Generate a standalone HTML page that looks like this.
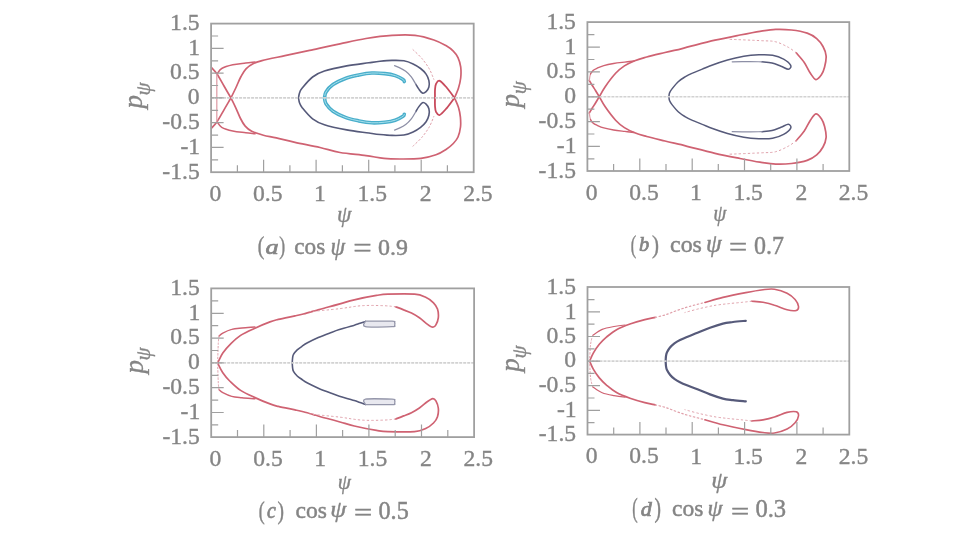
<!DOCTYPE html>
<html><head><meta charset="utf-8"><style>
html,body{margin:0;padding:0;background:#fff;}
svg{display:block;filter:blur(0.7px);}
</style></head><body>
<svg width="960" height="540" viewBox="0 0 960 540">
<rect width="960" height="540" fill="#fff"/>
<g fill="none" stroke-linecap="round" stroke-linejoin="round"><path d="M211.5,67.6 C212.4,68.7 214.9,70.9 217.0,74.0 C219.1,77.1 221.7,82.0 224.0,86.0 C226.3,90.0 229.8,95.9 230.9,97.9" stroke="#cf6272" stroke-width="1.7" />
<path d="M217.0,74.0 C217.8,73.1 219.1,70.0 221.7,68.5 C224.3,67.0 228.8,65.7 232.8,64.8 C236.8,63.9 242.0,63.5 245.7,63.0 C249.4,62.5 253.4,62.2 255.0,62.0" stroke="#cf6272" stroke-width="1.5" />
<path d="M216.8,74.0 L216.8,97.9" stroke="#e0a0aa" stroke-width="1.3" />
<path d="M454.5,97.9 C453.2,96.2 449.5,90.8 447.0,88.0 C444.5,85.2 441.5,81.5 439.7,80.8 C437.9,80.1 436.8,82.5 436.0,84.0 C435.2,85.5 435.2,87.7 435.0,90.0 C434.8,92.3 435.0,96.6 435.0,97.9" stroke="#c84a5c" stroke-width="1.8" />
<path d="M413.0,49.7 C414.5,51.2 419.2,55.3 421.9,58.5 C424.6,61.7 427.3,65.4 429.3,68.9 C431.3,72.4 433.1,77.6 433.8,79.3" stroke="#e0a0aa" stroke-width="1.0" stroke-dasharray="1.5,2.5"/>
<path d="M298.5,97.9 C298.7,97.1 298.9,94.6 299.5,93.0 C300.1,91.4 300.0,90.8 302.2,88.1 C304.4,85.4 308.9,79.8 312.6,77.0 C316.3,74.2 318.7,72.9 324.4,71.1 C330.1,69.2 339.3,67.3 346.7,65.9 C354.1,64.5 363.3,63.6 368.9,62.8 C374.4,62.0 376.1,61.7 380.0,61.3 C383.9,60.9 388.0,60.5 392.0,60.4 C396.0,60.3 400.4,60.2 403.9,60.8 C407.4,61.4 410.3,62.6 413.1,63.9 C415.9,65.2 418.4,66.8 420.6,68.5 C422.8,70.2 424.7,72.1 426.1,74.1 C427.5,76.1 428.4,78.4 428.9,80.6 C429.4,82.8 429.4,85.2 428.9,87.0 C428.4,88.8 427.2,90.7 426.1,91.7 C425.0,92.7 423.6,93.6 422.4,93.1 C421.2,92.6 419.8,90.4 418.7,88.9 C417.6,87.4 416.4,85.1 415.9,84.3" stroke="#565a7a" stroke-width="1.6" />
<path d="M415.9,84.3 C415.1,83.1 413.0,79.1 411.3,76.9 C409.6,74.7 407.7,72.8 405.7,71.3 C403.7,69.8 401.1,68.5 399.3,67.6 C397.5,66.7 395.4,66.0 394.6,65.7" stroke="#8d8fa6" stroke-width="1.3" />
<path d="M324.5,97.9 C324.8,96.9 324.6,94.2 326.0,92.0 C327.4,89.8 329.7,86.9 333.0,84.6 C336.3,82.3 341.7,79.8 346.0,78.2 C350.3,76.6 354.6,75.8 358.9,74.9 C363.2,74.0 367.6,73.2 371.9,73.0 C376.2,72.8 381.0,73.2 384.9,73.6 C388.8,74.0 392.2,74.6 395.2,75.6 C398.2,76.6 401.5,78.5 403.0,79.5 C404.5,80.5 404.1,81.2 404.3,81.5" stroke="#49aecb" stroke-width="3.6" />
<path d="M324.5,97.9 C324.8,96.9 324.6,94.2 326.0,92.0 C327.4,89.8 329.7,86.9 333.0,84.6 C336.3,82.3 341.7,79.8 346.0,78.2 C350.3,76.6 354.6,75.8 358.9,74.9 C363.2,74.0 367.6,73.2 371.9,73.0 C376.2,72.8 381.0,73.2 384.9,73.6 C388.8,74.0 392.2,74.6 395.2,75.6 C398.2,76.6 401.5,78.5 403.0,79.5 C404.5,80.5 404.1,81.2 404.3,81.5" stroke="#a6e0ec" stroke-width="1.0" /><path d="M230.9,97.9 C231.8,96.2 234.3,91.1 236.0,87.5 C237.7,83.9 239.3,79.6 241.0,76.5 C242.7,73.4 244.0,70.9 246.0,68.8 C248.0,66.7 250.3,65.2 253.0,63.8 C255.7,62.4 256.7,62.0 262.0,60.6 C267.3,59.2 277.1,57.3 285.0,55.6 C292.9,53.9 300.4,52.4 309.6,50.4 C318.8,48.4 330.6,45.7 340.0,43.8 C349.4,41.8 357.3,39.9 366.0,38.5 C374.7,37.1 383.8,35.9 392.0,35.4 C400.2,34.9 408.0,34.6 415.0,35.4 C422.0,36.2 428.8,38.3 433.9,40.0 C439.0,41.7 442.7,43.8 445.9,45.6 C449.1,47.5 451.3,49.1 453.3,51.1 C455.3,53.1 456.8,55.0 458.0,57.6 C459.2,60.2 460.2,63.5 460.7,66.9 C461.1,70.3 461.1,74.5 460.7,78.0 C460.3,81.5 459.5,84.7 458.5,88.0 C457.5,91.3 455.2,96.2 454.5,97.9" stroke="#cf6272" stroke-width="1.7" />
<path d="M230.9,97.9 C231.8,99.6 234.4,104.9 236.0,108.3 C237.6,111.7 239.0,115.5 240.5,118.5 C242.0,121.5 243.3,124.0 245.2,126.1 C247.1,128.2 248.7,129.8 251.7,131.3 C254.7,132.8 259.3,134.1 263.4,135.2 C267.5,136.3 271.0,136.6 276.3,137.8 C281.6,139.0 287.7,140.7 295.0,142.3 C302.3,143.9 312.5,145.8 320.0,147.5 C327.5,149.2 332.3,151.2 340.0,152.5 C347.7,153.8 358.7,154.6 366.0,155.6 C373.3,156.6 378.3,157.8 384.0,158.4 C389.7,159.0 393.8,159.0 400.0,159.0 C406.2,159.0 415.0,159.1 421.0,158.4 C427.0,157.7 431.8,156.3 436.0,154.8 C440.2,153.3 443.1,151.4 446.0,149.5 C448.9,147.6 451.3,145.6 453.3,143.5 C455.3,141.4 456.8,139.8 458.0,137.0 C459.2,134.2 460.1,130.3 460.5,127.0 C460.9,123.7 460.7,120.5 460.4,117.2 C460.1,114.0 459.5,110.7 458.5,107.5 C457.5,104.3 455.2,99.5 454.5,97.9" stroke="#cf6272" stroke-width="1.7" /></g>
<g fill="none" stroke-linecap="round" stroke-linejoin="round" transform="translate(0,195.80) scale(1,-1)"><path d="M211.5,67.6 C212.4,68.7 214.9,70.9 217.0,74.0 C219.1,77.1 221.7,82.0 224.0,86.0 C226.3,90.0 229.8,95.9 230.9,97.9" stroke="#cf6272" stroke-width="1.7" />
<path d="M217.0,74.0 C217.8,73.1 219.1,70.0 221.7,68.5 C224.3,67.0 228.8,65.7 232.8,64.8 C236.8,63.9 242.0,63.5 245.7,63.0 C249.4,62.5 253.4,62.2 255.0,62.0" stroke="#cf6272" stroke-width="1.5" />
<path d="M216.8,74.0 L216.8,97.9" stroke="#e0a0aa" stroke-width="1.3" />
<path d="M454.5,97.9 C453.2,96.2 449.5,90.8 447.0,88.0 C444.5,85.2 441.5,81.5 439.7,80.8 C437.9,80.1 436.8,82.5 436.0,84.0 C435.2,85.5 435.2,87.7 435.0,90.0 C434.8,92.3 435.0,96.6 435.0,97.9" stroke="#c84a5c" stroke-width="1.8" />
<path d="M413.0,49.7 C414.5,51.2 419.2,55.3 421.9,58.5 C424.6,61.7 427.3,65.4 429.3,68.9 C431.3,72.4 433.1,77.6 433.8,79.3" stroke="#e0a0aa" stroke-width="1.0" stroke-dasharray="1.5,2.5"/>
<path d="M298.5,97.9 C298.7,97.1 298.9,94.6 299.5,93.0 C300.1,91.4 300.0,90.8 302.2,88.1 C304.4,85.4 308.9,79.8 312.6,77.0 C316.3,74.2 318.7,72.9 324.4,71.1 C330.1,69.2 339.3,67.3 346.7,65.9 C354.1,64.5 363.3,63.6 368.9,62.8 C374.4,62.0 376.1,61.7 380.0,61.3 C383.9,60.9 388.0,60.5 392.0,60.4 C396.0,60.3 400.4,60.2 403.9,60.8 C407.4,61.4 410.3,62.6 413.1,63.9 C415.9,65.2 418.4,66.8 420.6,68.5 C422.8,70.2 424.7,72.1 426.1,74.1 C427.5,76.1 428.4,78.4 428.9,80.6 C429.4,82.8 429.4,85.2 428.9,87.0 C428.4,88.8 427.2,90.7 426.1,91.7 C425.0,92.7 423.6,93.6 422.4,93.1 C421.2,92.6 419.8,90.4 418.7,88.9 C417.6,87.4 416.4,85.1 415.9,84.3" stroke="#565a7a" stroke-width="1.6" />
<path d="M415.9,84.3 C415.1,83.1 413.0,79.1 411.3,76.9 C409.6,74.7 407.7,72.8 405.7,71.3 C403.7,69.8 401.1,68.5 399.3,67.6 C397.5,66.7 395.4,66.0 394.6,65.7" stroke="#8d8fa6" stroke-width="1.3" />
<path d="M324.5,97.9 C324.8,96.9 324.6,94.2 326.0,92.0 C327.4,89.8 329.7,86.9 333.0,84.6 C336.3,82.3 341.7,79.8 346.0,78.2 C350.3,76.6 354.6,75.8 358.9,74.9 C363.2,74.0 367.6,73.2 371.9,73.0 C376.2,72.8 381.0,73.2 384.9,73.6 C388.8,74.0 392.2,74.6 395.2,75.6 C398.2,76.6 401.5,78.5 403.0,79.5 C404.5,80.5 404.1,81.2 404.3,81.5" stroke="#49aecb" stroke-width="3.6" />
<path d="M324.5,97.9 C324.8,96.9 324.6,94.2 326.0,92.0 C327.4,89.8 329.7,86.9 333.0,84.6 C336.3,82.3 341.7,79.8 346.0,78.2 C350.3,76.6 354.6,75.8 358.9,74.9 C363.2,74.0 367.6,73.2 371.9,73.0 C376.2,72.8 381.0,73.2 384.9,73.6 C388.8,74.0 392.2,74.6 395.2,75.6 C398.2,76.6 401.5,78.5 403.0,79.5 C404.5,80.5 404.1,81.2 404.3,81.5" stroke="#a6e0ec" stroke-width="1.0" /></g>
<line x1="211.1" y1="97.9" x2="473.7" y2="97.9" stroke="#d2d2d2" stroke-width="1.6" stroke-dasharray="3,1"/>
<path d="M237.4,172.2V165.2M263.6,172.2V159.7M289.9,172.2V165.2M316.1,172.2V159.7M342.4,172.2V165.2M368.7,172.2V159.7M394.9,172.2V165.2M421.2,172.2V159.7M447.4,172.2V165.2M211.1,159.8H218.1M211.1,147.4H223.6M211.1,135.1H218.1M211.1,122.7H223.6M211.1,110.3H218.1M211.1,97.9H223.6M211.1,85.5H218.1M211.1,73.1H223.6M211.1,60.8H218.1M211.1,48.4H223.6M211.1,36.0H218.1" stroke="#a0a0a0" stroke-width="1.2" fill="none"/>
<rect x="211.1" y="23.6" width="262.6" height="148.6" fill="none" stroke="#a0a0a0" stroke-width="1.8"/>
<g font-family="Liberation Serif, serif" fill="#858585" stroke="#858585" stroke-width="0.35"><text transform="translate(170.11,30.11) scale(1.050,1)" font-size="22.50">1.5</text><text transform="translate(188.30,54.99) scale(1.050,1)" font-size="22.50">1</text><text transform="translate(170.11,79.42) scale(1.050,1)" font-size="22.50">0.5</text><text transform="translate(187.83,104.19) scale(1.050,1)" font-size="22.50">0</text><text transform="translate(162.32,128.95) scale(1.050,1)" font-size="22.50">-0.5</text><text transform="translate(180.51,154.06) scale(1.050,1)" font-size="22.50">-1</text><text transform="translate(162.32,178.71) scale(1.050,1)" font-size="22.50">-1.5</text><text transform="translate(209.39,200.95) scale(1.050,1)" font-size="22.50">0</text><text transform="translate(253.05,200.95) scale(1.050,1)" font-size="22.50">0.5</text><text transform="translate(314.08,201.40) scale(1.050,1)" font-size="22.50">1</text><text transform="translate(357.50,201.17) scale(1.050,1)" font-size="22.50">1.5</text><text transform="translate(419.71,201.40) scale(1.050,1)" font-size="22.50">2</text><text transform="translate(463.13,201.17) scale(1.050,1)" font-size="22.50">2.5</text><text transform="translate(337.01,222.47) scale(0.967,1)" font-size="23.95" font-style="italic">ψ</text><text transform="translate(142.4,108.6) rotate(-90)" font-size="27" font-style="italic">p</text><text transform="translate(149.6,95.4) rotate(-90)" font-size="21" font-style="italic">ψ</text></g>
<g font-family="Liberation Serif, serif" fill="#858585" stroke="#858585" stroke-width="0.45"><text transform="translate(257.72,253.64) scale(0.783,1)" font-size="25.06">(</text><text stroke-width="0.7" transform="translate(265.61,253.68) scale(1.201,1)" font-size="21.88" font-style="italic">a</text><text transform="translate(279.27,253.64) scale(0.706,1)" font-size="25.06">)</text><text transform="translate(294.27,254.07) scale(1.021,1)" font-size="22.71">cos</text><text transform="translate(330.44,254.74) scale(0.910,1)" font-size="25.74" font-style="italic">ψ</text><text transform="translate(353.16,257.43) scale(1.223,1)" font-size="26.80">=</text><text transform="translate(377.94,254.69) scale(1.038,1)" font-size="23.06">0.9</text></g>
<g fill="none" stroke-linecap="round" stroke-linejoin="round"><path d="M589.3,80.5 C589.8,81.2 591.0,83.3 592.0,85.0 C593.0,86.7 594.3,88.5 595.5,90.5 C596.7,92.5 598.7,95.7 599.3,96.8" stroke="#cf6272" stroke-width="1.7" />
<path d="M589.3,80.5 C589.4,79.9 589.6,78.1 589.8,77.0 C590.0,75.9 590.4,74.5 590.5,74.0" stroke="#e0a0aa" stroke-width="1.2" />
<path d="M599.3,96.8 C600.3,95.1 602.5,90.6 605.2,86.7 C607.9,82.8 612.4,76.8 615.6,73.3 C618.8,69.8 621.2,68.0 624.4,65.9 C627.6,63.8 631.1,62.2 634.8,60.7 C638.5,59.2 641.7,58.4 646.7,57.0 C651.7,55.6 659.2,53.9 665.0,52.5 C670.8,51.1 677.1,49.8 681.2,48.8 C685.4,47.7 684.4,47.8 690.0,46.4 C695.6,45.0 706.7,42.1 715.0,40.2 C723.3,38.3 732.5,36.5 740.0,35.0 C747.5,33.5 754.0,32.2 760.0,31.3 C766.0,30.4 770.5,29.6 775.7,29.4 C781.0,29.2 786.2,29.4 791.5,30.0 C796.8,30.6 803.0,31.7 807.2,33.1 C811.4,34.5 814.1,36.4 816.7,38.6 C819.3,40.8 821.4,43.6 823.0,46.5 C824.6,49.4 825.8,52.5 826.1,55.9 C826.4,59.3 825.4,63.9 824.6,67.0 C823.8,70.2 822.9,72.7 821.4,74.8 C819.9,76.9 817.7,79.8 815.9,79.6 C814.1,79.3 812.4,76.2 810.4,73.3 C808.4,70.4 806.5,65.6 804.1,62.2 C801.7,58.8 797.5,54.4 796.2,52.8" stroke="#cf6272" stroke-width="1.7" />
<path d="M796.2,52.8 C794.9,51.9 791.7,49.1 788.3,47.3 C784.9,45.5 780.1,42.9 775.7,41.8 C771.3,40.7 769.6,41.1 761.9,40.7 C754.2,40.3 734.7,39.5 729.3,39.3" stroke="#e0a0aa" stroke-width="1.0" stroke-dasharray="1.5,3"/>
<path d="M590.5,74.0 C590.9,73.4 591.9,71.5 593.0,70.6 C594.1,69.6 595.1,69.1 596.9,68.3 C598.7,67.5 601.0,66.4 603.8,65.6 C606.6,64.8 610.1,64.1 613.6,63.5 C617.1,62.9 621.3,62.5 624.7,62.1 C628.1,61.7 632.5,61.2 634.0,61.0" stroke="#cf6272" stroke-width="1.4" />
<path d="M668.9,96.8 C669.0,96.1 669.0,94.3 669.5,93.0 C670.0,91.7 670.5,90.8 672.0,88.9 C673.5,87.0 676.3,83.5 678.5,81.5 C680.7,79.5 682.7,78.3 685.0,76.9 C687.3,75.5 689.6,74.3 692.4,73.1 C695.2,71.8 698.4,70.8 701.7,69.4 C705.1,68.1 708.2,66.6 712.5,65.0 C716.8,63.4 722.3,61.5 727.5,60.0 C732.7,58.5 738.5,57.2 743.8,56.3 C749.0,55.4 754.1,55.0 758.9,54.8 C763.7,54.6 768.5,54.5 772.6,55.2 C776.7,55.9 780.6,57.4 783.6,59.1 C786.6,60.8 789.9,63.7 790.7,65.4 C791.5,67.1 789.9,69.2 788.3,69.3 C786.7,69.4 783.7,67.2 781.0,66.2 C778.3,65.2 775.2,63.7 772.0,63.0 C768.8,62.3 763.7,62.0 762.0,61.8" stroke="#565a7a" stroke-width="1.5" />
<path d="M762.0,61.8 C760.0,61.8 755.0,61.6 750.0,61.6 C745.0,61.6 735.2,61.8 732.2,61.8" stroke="#8d8fa6" stroke-width="1.2" /></g>
<g fill="none" stroke-linecap="round" stroke-linejoin="round" transform="translate(0,193.50) scale(1,-1)"><path d="M589.3,80.5 C589.8,81.2 591.0,83.3 592.0,85.0 C593.0,86.7 594.3,88.5 595.5,90.5 C596.7,92.5 598.7,95.7 599.3,96.8" stroke="#cf6272" stroke-width="1.7" />
<path d="M589.3,80.5 C589.4,79.9 589.6,78.1 589.8,77.0 C590.0,75.9 590.4,74.5 590.5,74.0" stroke="#e0a0aa" stroke-width="1.2" />
<path d="M599.3,96.8 C600.3,95.1 602.5,90.6 605.2,86.7 C607.9,82.8 612.4,76.8 615.6,73.3 C618.8,69.8 621.2,68.0 624.4,65.9 C627.6,63.8 631.1,62.2 634.8,60.7 C638.5,59.2 641.7,58.4 646.7,57.0 C651.7,55.6 659.2,53.9 665.0,52.5 C670.8,51.1 677.1,49.8 681.2,48.8 C685.4,47.7 684.4,47.8 690.0,46.4 C695.6,45.0 706.7,42.1 715.0,40.2 C723.3,38.3 732.5,36.5 740.0,35.0 C747.5,33.5 754.0,32.2 760.0,31.3 C766.0,30.4 770.5,29.6 775.7,29.4 C781.0,29.2 786.2,29.4 791.5,30.0 C796.8,30.6 803.0,31.7 807.2,33.1 C811.4,34.5 814.1,36.4 816.7,38.6 C819.3,40.8 821.4,43.6 823.0,46.5 C824.6,49.4 825.8,52.5 826.1,55.9 C826.4,59.3 825.4,63.9 824.6,67.0 C823.8,70.2 822.9,72.7 821.4,74.8 C819.9,76.9 817.7,79.8 815.9,79.6 C814.1,79.3 812.4,76.2 810.4,73.3 C808.4,70.4 806.5,65.6 804.1,62.2 C801.7,58.8 797.5,54.4 796.2,52.8" stroke="#cf6272" stroke-width="1.7" />
<path d="M796.2,52.8 C794.9,51.9 791.7,49.1 788.3,47.3 C784.9,45.5 780.1,42.9 775.7,41.8 C771.3,40.7 769.6,41.1 761.9,40.7 C754.2,40.3 734.7,39.5 729.3,39.3" stroke="#e0a0aa" stroke-width="1.0" stroke-dasharray="1.5,3"/>
<path d="M590.5,74.0 C590.9,73.4 591.9,71.5 593.0,70.6 C594.1,69.6 595.1,69.1 596.9,68.3 C598.7,67.5 601.0,66.4 603.8,65.6 C606.6,64.8 610.1,64.1 613.6,63.5 C617.1,62.9 621.3,62.5 624.7,62.1 C628.1,61.7 632.5,61.2 634.0,61.0" stroke="#cf6272" stroke-width="1.4" />
<path d="M668.9,96.8 C669.0,96.1 669.0,94.3 669.5,93.0 C670.0,91.7 670.5,90.8 672.0,88.9 C673.5,87.0 676.3,83.5 678.5,81.5 C680.7,79.5 682.7,78.3 685.0,76.9 C687.3,75.5 689.6,74.3 692.4,73.1 C695.2,71.8 698.4,70.8 701.7,69.4 C705.1,68.1 708.2,66.6 712.5,65.0 C716.8,63.4 722.3,61.5 727.5,60.0 C732.7,58.5 738.5,57.2 743.8,56.3 C749.0,55.4 754.1,55.0 758.9,54.8 C763.7,54.6 768.5,54.5 772.6,55.2 C776.7,55.9 780.6,57.4 783.6,59.1 C786.6,60.8 789.9,63.7 790.7,65.4 C791.5,67.1 789.9,69.2 788.3,69.3 C786.7,69.4 783.7,67.2 781.0,66.2 C778.3,65.2 775.2,63.7 772.0,63.0 C768.8,62.3 763.7,62.0 762.0,61.8" stroke="#565a7a" stroke-width="1.5" />
<path d="M762.0,61.8 C760.0,61.8 755.0,61.6 750.0,61.6 C745.0,61.6 735.2,61.8 732.2,61.8" stroke="#8d8fa6" stroke-width="1.2" /></g>
<line x1="587.4" y1="96.8" x2="849.3" y2="96.8" stroke="#d2d2d2" stroke-width="1.6" stroke-dasharray="3,1"/>
<path d="M613.6,171.0V164.0M639.8,171.0V158.5M666.0,171.0V164.0M692.2,171.0V158.5M718.3,171.0V164.0M744.5,171.0V158.5M770.7,171.0V164.0M796.9,171.0V158.5M823.1,171.0V164.0M587.4,158.8H594.4M587.4,146.4H599.9M587.4,134.0H594.4M587.4,121.6H599.9M587.4,109.2H594.4M587.4,96.8H599.9M587.4,84.3H594.4M587.4,71.9H599.9M587.4,59.5H594.4M587.4,47.1H599.9M587.4,34.7H594.4" stroke="#a0a0a0" stroke-width="1.2" fill="none"/>
<rect x="587.4" y="22.1" width="261.9" height="148.9" fill="none" stroke="#a0a0a0" stroke-width="1.8"/>
<g font-family="Liberation Serif, serif" fill="#858585" stroke="#858585" stroke-width="0.35"><text transform="translate(546.41,28.81) scale(1.050,1)" font-size="22.50">1.5</text><text transform="translate(564.61,53.74) scale(1.050,1)" font-size="22.50">1</text><text transform="translate(546.41,78.22) scale(1.050,1)" font-size="22.50">0.5</text><text transform="translate(564.13,103.04) scale(1.050,1)" font-size="22.50">0</text><text transform="translate(538.62,127.85) scale(1.050,1)" font-size="22.50">-0.5</text><text transform="translate(556.81,153.01) scale(1.050,1)" font-size="22.50">-1</text><text transform="translate(538.62,177.71) scale(1.050,1)" font-size="22.50">-1.5</text><text transform="translate(585.69,199.75) scale(1.050,1)" font-size="22.50">0</text><text transform="translate(629.21,199.75) scale(1.050,1)" font-size="22.50">0.5</text><text transform="translate(690.10,200.20) scale(1.050,1)" font-size="22.50">1</text><text transform="translate(733.38,199.97) scale(1.050,1)" font-size="22.50">1.5</text><text transform="translate(795.45,200.20) scale(1.050,1)" font-size="22.50">2</text><text transform="translate(838.73,199.97) scale(1.050,1)" font-size="22.50">2.5</text><text transform="translate(713.24,221.26) scale(0.932,1)" font-size="22.59" font-style="italic">ψ</text><text transform="translate(518.7,107.5) rotate(-90)" font-size="27" font-style="italic">p</text><text transform="translate(525.9,94.2) rotate(-90)" font-size="21" font-style="italic">ψ</text></g>
<g font-family="Liberation Serif, serif" fill="#858585" stroke="#858585" stroke-width="0.45"><text transform="translate(630.75,253.23) scale(0.640,1)" font-size="25.56">(</text><text stroke-width="0.7" transform="translate(638.98,251.44) scale(0.998,1)" font-size="20.50" font-style="italic">b</text><text transform="translate(652.07,253.23) scale(0.820,1)" font-size="25.56">)</text><text transform="translate(670.04,252.17) scale(1.042,1)" font-size="22.92">cos</text><text transform="translate(706.09,252.24) scale(1.001,1)" font-size="25.06" font-style="italic">ψ</text><text transform="translate(728.98,256.21) scale(1.189,1)" font-size="27.20">=</text><text transform="translate(754.04,253.69) scale(0.945,1)" font-size="25.37">0.7</text></g>
<g fill="none" stroke-linecap="round" stroke-linejoin="round"><path d="M217.6,362.9 C218.5,361.3 220.7,356.2 222.8,353.1 C224.9,350.0 227.2,347.2 230.2,344.3 C233.2,341.4 236.6,338.0 240.6,335.4 C244.6,332.8 249.0,330.9 253.9,328.7 C258.8,326.4 265.9,323.4 270.0,321.9 C274.1,320.3 274.1,320.4 278.3,319.4 C282.5,318.4 290.8,316.8 295.0,315.9 C299.2,315.0 299.8,314.9 303.3,314.0 C306.8,313.1 311.6,311.7 315.8,310.5 C320.0,309.3 324.1,308.1 328.3,307.0 C332.5,305.9 336.5,304.8 340.8,303.6 C345.1,302.4 348.4,301.2 354.3,299.8 C360.2,298.4 370.9,296.3 376.5,295.4 C382.1,294.5 381.5,294.4 387.9,294.2 C394.2,294.0 408.3,293.7 414.6,294.2 C420.9,294.7 422.6,295.9 425.7,297.3 C428.8,298.7 431.5,300.8 433.5,302.8 C435.5,304.8 436.7,306.6 437.5,309.1 C438.3,311.6 438.6,315.2 438.3,317.8 C438.0,320.4 436.8,323.3 435.9,324.9 C435.0,326.5 434.2,327.3 432.8,327.2 C431.4,327.1 429.4,325.7 427.2,324.1 C425.0,322.5 422.0,319.6 419.4,317.8 C416.8,316.0 414.1,314.4 411.5,313.1 C408.9,311.8 406.2,310.9 403.6,309.9 C401.0,308.8 397.0,307.3 395.7,306.8" stroke="#cf6272" stroke-width="1.7" />
<path d="M395.7,306.8 C393.7,306.6 389.6,305.9 383.9,305.7 C378.2,305.5 369.1,305.2 361.7,305.7 C354.3,306.2 348.0,307.7 339.4,308.7 C330.8,309.7 314.7,311.2 309.8,311.7" stroke="#e0a0aa" stroke-width="1.0" stroke-dasharray="1.5,3"/>
<path d="M219.1,336.1 C219.7,335.6 220.7,334.2 222.8,333.1 C224.9,332.0 228.5,330.2 231.7,329.4 C234.9,328.5 238.1,328.4 242.0,328.0 C245.9,327.6 252.8,327.2 255.0,327.0" stroke="#cf6272" stroke-width="1.4" />
<path d="M219.1,336.1 C219.0,337.2 218.6,338.3 218.3,342.8 C218.1,347.3 217.7,359.5 217.6,362.9" stroke="#e0a0aa" stroke-width="1.0" stroke-dasharray="1.5,2"/>
<path d="M292.2,362.9 C292.3,362.1 292.4,359.4 292.6,358.0 C292.8,356.6 292.7,355.8 293.5,354.4 C294.3,353.0 295.8,351.1 297.2,349.8 C298.6,348.5 300.3,347.5 302.0,346.3 C303.7,345.1 304.8,344.2 307.5,342.8 C310.2,341.4 314.7,339.2 318.3,337.6 C321.9,336.0 325.9,334.5 329.4,333.2 C332.9,331.9 335.2,330.9 339.4,329.6 C343.5,328.3 350.9,326.2 354.3,325.2 C357.7,324.1 358.1,323.9 360.0,323.3 C361.9,322.7 364.6,321.7 365.5,321.4" stroke="#565a7a" stroke-width="1.6" />
<path d="M365.5,321.2 C369.9,321.2 387.1,321.0 392.0,321.2 C396.9,321.4 394.2,321.9 394.6,322.6 C395.0,323.3 395.0,324.5 394.6,325.2 C394.2,325.9 396.9,326.4 392.0,326.6 C387.1,326.8 369.9,327.5 365.5,326.6 C361.1,325.7 365.5,322.1 365.5,321.2" stroke="#9496aa" stroke-width="1.3" fill="#e8e8ef"/></g>
<g fill="none" stroke-linecap="round" stroke-linejoin="round" transform="translate(0,725.80) scale(1,-1)"><path d="M217.6,362.9 C218.5,361.3 220.7,356.2 222.8,353.1 C224.9,350.0 227.2,347.2 230.2,344.3 C233.2,341.4 236.6,338.0 240.6,335.4 C244.6,332.8 249.0,330.9 253.9,328.7 C258.8,326.4 265.9,323.4 270.0,321.9 C274.1,320.3 274.1,320.4 278.3,319.4 C282.5,318.4 290.8,316.8 295.0,315.9 C299.2,315.0 299.8,314.9 303.3,314.0 C306.8,313.1 311.6,311.7 315.8,310.5 C320.0,309.3 324.1,308.1 328.3,307.0 C332.5,305.9 336.5,304.8 340.8,303.6 C345.1,302.4 348.4,301.2 354.3,299.8 C360.2,298.4 370.9,296.3 376.5,295.4 C382.1,294.5 381.5,294.4 387.9,294.2 C394.2,294.0 408.3,293.7 414.6,294.2 C420.9,294.7 422.6,295.9 425.7,297.3 C428.8,298.7 431.5,300.8 433.5,302.8 C435.5,304.8 436.7,306.6 437.5,309.1 C438.3,311.6 438.6,315.2 438.3,317.8 C438.0,320.4 436.8,323.3 435.9,324.9 C435.0,326.5 434.2,327.3 432.8,327.2 C431.4,327.1 429.4,325.7 427.2,324.1 C425.0,322.5 422.0,319.6 419.4,317.8 C416.8,316.0 414.1,314.4 411.5,313.1 C408.9,311.8 406.2,310.9 403.6,309.9 C401.0,308.8 397.0,307.3 395.7,306.8" stroke="#cf6272" stroke-width="1.7" />
<path d="M395.7,306.8 C393.7,306.6 389.6,305.9 383.9,305.7 C378.2,305.5 369.1,305.2 361.7,305.7 C354.3,306.2 348.0,307.7 339.4,308.7 C330.8,309.7 314.7,311.2 309.8,311.7" stroke="#e0a0aa" stroke-width="1.0" stroke-dasharray="1.5,3"/>
<path d="M219.1,336.1 C219.7,335.6 220.7,334.2 222.8,333.1 C224.9,332.0 228.5,330.2 231.7,329.4 C234.9,328.5 238.1,328.4 242.0,328.0 C245.9,327.6 252.8,327.2 255.0,327.0" stroke="#cf6272" stroke-width="1.4" />
<path d="M219.1,336.1 C219.0,337.2 218.6,338.3 218.3,342.8 C218.1,347.3 217.7,359.5 217.6,362.9" stroke="#e0a0aa" stroke-width="1.0" stroke-dasharray="1.5,2"/>
<path d="M292.2,362.9 C292.3,362.1 292.4,359.4 292.6,358.0 C292.8,356.6 292.7,355.8 293.5,354.4 C294.3,353.0 295.8,351.1 297.2,349.8 C298.6,348.5 300.3,347.5 302.0,346.3 C303.7,345.1 304.8,344.2 307.5,342.8 C310.2,341.4 314.7,339.2 318.3,337.6 C321.9,336.0 325.9,334.5 329.4,333.2 C332.9,331.9 335.2,330.9 339.4,329.6 C343.5,328.3 350.9,326.2 354.3,325.2 C357.7,324.1 358.1,323.9 360.0,323.3 C361.9,322.7 364.6,321.7 365.5,321.4" stroke="#565a7a" stroke-width="1.6" />
<path d="M365.5,321.2 C369.9,321.2 387.1,321.0 392.0,321.2 C396.9,321.4 394.2,321.9 394.6,322.6 C395.0,323.3 395.0,324.5 394.6,325.2 C394.2,325.9 396.9,326.4 392.0,326.6 C387.1,326.8 369.9,327.5 365.5,326.6 C361.1,325.7 365.5,322.1 365.5,321.2" stroke="#9496aa" stroke-width="1.3" fill="#e8e8ef"/></g>
<line x1="211.2" y1="362.9" x2="474.1" y2="362.9" stroke="#d2d2d2" stroke-width="1.6" stroke-dasharray="3,1"/>
<path d="M237.5,437.1V430.1M263.8,437.1V424.6M290.1,437.1V430.1M316.4,437.1V424.6M342.6,437.1V430.1M368.9,437.1V424.6M395.2,437.1V430.1M421.5,437.1V424.6M447.8,437.1V430.1M211.2,424.9H218.2M211.2,412.5H223.7M211.2,400.1H218.2M211.2,387.7H223.7M211.2,375.3H218.2M211.2,362.9H223.7M211.2,350.5H218.2M211.2,338.1H223.7M211.2,325.7H218.2M211.2,313.3H223.7M211.2,300.9H218.2" stroke="#a0a0a0" stroke-width="1.2" fill="none"/>
<rect x="211.2" y="288.4" width="262.9" height="148.7" fill="none" stroke="#a0a0a0" stroke-width="1.8"/>
<g font-family="Liberation Serif, serif" fill="#858585" stroke="#858585" stroke-width="0.35"><text transform="translate(170.21,295.06) scale(1.050,1)" font-size="22.50">1.5</text><text transform="translate(188.40,319.96) scale(1.050,1)" font-size="22.50">1</text><text transform="translate(170.21,344.40) scale(1.050,1)" font-size="22.50">0.5</text><text transform="translate(187.93,369.19) scale(1.050,1)" font-size="22.50">0</text><text transform="translate(162.42,393.97) scale(1.050,1)" font-size="22.50">-0.5</text><text transform="translate(180.61,419.09) scale(1.050,1)" font-size="22.50">-1</text><text transform="translate(162.42,443.76) scale(1.050,1)" font-size="22.50">-1.5</text><text transform="translate(209.49,465.85) scale(1.050,1)" font-size="22.50">0</text><text transform="translate(253.21,465.85) scale(1.050,1)" font-size="22.50">0.5</text><text transform="translate(314.30,466.30) scale(1.050,1)" font-size="22.50">1</text><text transform="translate(357.78,466.07) scale(1.050,1)" font-size="22.50">1.5</text><text transform="translate(420.05,466.30) scale(1.050,1)" font-size="22.50">2</text><text transform="translate(463.53,466.07) scale(1.050,1)" font-size="22.50">2.5</text><text transform="translate(337.83,489.09) scale(0.988,1)" font-size="21.48" font-style="italic">ψ</text><text transform="translate(142.5,373.6) rotate(-90)" font-size="27" font-style="italic">p</text><text transform="translate(149.7,360.4) rotate(-90)" font-size="21" font-style="italic">ψ</text></g>
<g font-family="Liberation Serif, serif" fill="#858585" stroke="#858585" stroke-width="0.45"><text transform="translate(258.63,518.70) scale(0.689,1)" font-size="25.94">(</text><text stroke-width="0.7" transform="translate(267.10,518.47) scale(0.879,1)" font-size="22.60" font-style="italic">c</text><text transform="translate(277.52,518.70) scale(0.749,1)" font-size="25.94">)</text><text transform="translate(295.46,518.46) scale(1.001,1)" font-size="23.54">cos</text><text transform="translate(330.15,517.44) scale(1.071,1)" font-size="24.07" font-style="italic">ψ</text><text transform="translate(353.98,520.27) scale(1.394,1)" font-size="23.20">=</text><text transform="translate(378.53,518.72) scale(1.000,1)" font-size="24.18">0.5</text></g>
<g fill="none" stroke-linecap="round" stroke-linejoin="round"><path d="M589.6,361.1 C590.2,359.8 591.7,355.9 593.3,353.1 C594.9,350.3 597.1,347.0 599.3,344.3 C601.5,341.6 603.8,339.4 606.7,336.9 C609.7,334.4 613.1,331.5 617.0,329.4 C620.9,327.2 625.4,325.6 630.0,324.0 C634.6,322.4 640.6,320.7 644.8,319.6 C649.0,318.5 653.5,317.8 655.2,317.4" stroke="#cf6272" stroke-width="1.7" />
<path d="M655.2,317.4 C657.0,316.9 662.3,315.8 666.0,314.6 C669.7,313.4 673.5,311.7 677.4,310.3 C681.3,308.9 684.7,307.8 689.3,306.5 C693.9,305.2 702.4,303.1 705.0,302.4" stroke="#e0a0aa" stroke-width="1.2" stroke-dasharray="1.5,2.5"/>
<path d="M705.0,302.4 C708.0,301.6 716.1,299.0 722.9,297.4 C729.7,295.8 739.1,293.9 745.8,292.6 C752.5,291.3 758.2,290.3 763.0,289.7 C767.8,289.1 770.5,288.6 774.5,289.2 C778.5,289.8 783.7,291.5 787.1,293.2 C790.5,294.9 793.2,297.3 795.1,299.5 C797.0,301.7 798.3,304.6 798.5,306.4 C798.7,308.2 798.2,309.8 796.3,310.4 C794.4,311.0 790.7,310.7 787.1,309.8 C783.5,308.9 778.5,306.4 774.5,305.2 C770.5,303.9 766.8,303.0 763.0,302.3 C759.2,301.6 753.5,301.4 751.6,301.2" stroke="#cf6272" stroke-width="1.6" />
<path d="M751.6,301.2 C750.1,301.4 746.0,301.9 742.4,302.3 C738.8,302.7 734.4,303.0 730.0,303.5 C725.6,304.0 721.0,304.4 716.0,305.2 C711.0,306.0 705.2,307.3 700.0,308.5 C694.8,309.7 687.5,311.8 685.0,312.5" stroke="#e0a0aa" stroke-width="1.0" stroke-dasharray="1.5,3"/>
<path d="M592.6,335.4 C594.2,334.4 598.6,330.9 602.2,329.4 C605.8,327.9 610.3,327.2 614.1,326.5 C617.9,325.8 623.2,325.2 625.0,325.0" stroke="#cf6272" stroke-width="1.2" />
<path d="M592.6,335.4 C592.2,337.0 591.0,340.7 590.5,345.0 C590.0,349.3 589.8,358.4 589.6,361.1" stroke="#e0a0aa" stroke-width="1.0" stroke-dasharray="1.5,2"/>
<path d="M665.6,361.1 C665.7,360.2 665.8,357.5 666.0,356.0 C666.2,354.5 666.3,353.6 667.0,352.2 C667.7,350.8 668.8,349.0 670.0,347.5 C671.2,346.0 672.7,344.6 674.4,343.3 C676.1,342.1 678.0,341.0 680.0,340.0 C682.0,339.0 683.3,338.4 686.3,337.2 C689.3,336.0 694.1,334.2 698.1,332.6 C702.1,331.0 705.9,329.3 710.0,327.8 C714.1,326.3 719.1,324.6 722.9,323.6 C726.7,322.6 729.2,322.5 733.0,322.0 C736.8,321.5 743.7,321.0 745.8,320.8" stroke="#565a7a" stroke-width="2.2" /></g>
<g fill="none" stroke-linecap="round" stroke-linejoin="round" transform="translate(0,722.20) scale(1,-1)"><path d="M589.6,361.1 C590.2,359.8 591.7,355.9 593.3,353.1 C594.9,350.3 597.1,347.0 599.3,344.3 C601.5,341.6 603.8,339.4 606.7,336.9 C609.7,334.4 613.1,331.5 617.0,329.4 C620.9,327.2 625.4,325.6 630.0,324.0 C634.6,322.4 640.6,320.7 644.8,319.6 C649.0,318.5 653.5,317.8 655.2,317.4" stroke="#cf6272" stroke-width="1.7" />
<path d="M655.2,317.4 C657.0,316.9 662.3,315.8 666.0,314.6 C669.7,313.4 673.5,311.7 677.4,310.3 C681.3,308.9 684.7,307.8 689.3,306.5 C693.9,305.2 702.4,303.1 705.0,302.4" stroke="#e0a0aa" stroke-width="1.2" stroke-dasharray="1.5,2.5"/>
<path d="M705.0,302.4 C708.0,301.6 716.1,299.0 722.9,297.4 C729.7,295.8 739.1,293.9 745.8,292.6 C752.5,291.3 758.2,290.3 763.0,289.7 C767.8,289.1 770.5,288.6 774.5,289.2 C778.5,289.8 783.7,291.5 787.1,293.2 C790.5,294.9 793.2,297.3 795.1,299.5 C797.0,301.7 798.3,304.6 798.5,306.4 C798.7,308.2 798.2,309.8 796.3,310.4 C794.4,311.0 790.7,310.7 787.1,309.8 C783.5,308.9 778.5,306.4 774.5,305.2 C770.5,303.9 766.8,303.0 763.0,302.3 C759.2,301.6 753.5,301.4 751.6,301.2" stroke="#cf6272" stroke-width="1.6" />
<path d="M751.6,301.2 C750.1,301.4 746.0,301.9 742.4,302.3 C738.8,302.7 734.4,303.0 730.0,303.5 C725.6,304.0 721.0,304.4 716.0,305.2 C711.0,306.0 705.2,307.3 700.0,308.5 C694.8,309.7 687.5,311.8 685.0,312.5" stroke="#e0a0aa" stroke-width="1.0" stroke-dasharray="1.5,3"/>
<path d="M592.6,335.4 C594.2,334.4 598.6,330.9 602.2,329.4 C605.8,327.9 610.3,327.2 614.1,326.5 C617.9,325.8 623.2,325.2 625.0,325.0" stroke="#cf6272" stroke-width="1.2" />
<path d="M592.6,335.4 C592.2,337.0 591.0,340.7 590.5,345.0 C590.0,349.3 589.8,358.4 589.6,361.1" stroke="#e0a0aa" stroke-width="1.0" stroke-dasharray="1.5,2"/>
<path d="M665.6,361.1 C665.7,360.2 665.8,357.5 666.0,356.0 C666.2,354.5 666.3,353.6 667.0,352.2 C667.7,350.8 668.8,349.0 670.0,347.5 C671.2,346.0 672.7,344.6 674.4,343.3 C676.1,342.1 678.0,341.0 680.0,340.0 C682.0,339.0 683.3,338.4 686.3,337.2 C689.3,336.0 694.1,334.2 698.1,332.6 C702.1,331.0 705.9,329.3 710.0,327.8 C714.1,326.3 719.1,324.6 722.9,323.6 C726.7,322.6 729.2,322.5 733.0,322.0 C736.8,321.5 743.7,321.0 745.8,320.8" stroke="#565a7a" stroke-width="2.2" /></g>
<line x1="587.5" y1="361.1" x2="849.3" y2="361.1" stroke="#d2d2d2" stroke-width="1.6" stroke-dasharray="3,1"/>
<path d="M613.7,434.6V427.6M639.9,434.6V422.1M666.0,434.6V427.6M692.2,434.6V422.1M718.4,434.6V427.6M744.6,434.6V422.1M770.8,434.6V427.6M796.9,434.6V422.1M823.1,434.6V427.6M587.5,422.6H594.5M587.5,410.3H600.0M587.5,398.0H594.5M587.5,385.7H600.0M587.5,373.4H594.5M587.5,361.1H600.0M587.5,348.8H594.5M587.5,336.5H600.0M587.5,324.2H594.5M587.5,311.9H600.0M587.5,299.6H594.5" stroke="#a0a0a0" stroke-width="1.2" fill="none"/>
<rect x="587.5" y="287.0" width="261.8" height="147.6" fill="none" stroke="#a0a0a0" stroke-width="1.8"/>
<g font-family="Liberation Serif, serif" fill="#858585" stroke="#858585" stroke-width="0.35"><text transform="translate(546.51,293.81) scale(1.050,1)" font-size="22.50">1.5</text><text transform="translate(564.71,318.53) scale(1.050,1)" font-size="22.50">1</text><text transform="translate(546.51,342.79) scale(1.050,1)" font-size="22.50">0.5</text><text transform="translate(564.23,367.39) scale(1.050,1)" font-size="22.50">0</text><text transform="translate(538.72,391.99) scale(1.050,1)" font-size="22.50">-0.5</text><text transform="translate(556.91,416.93) scale(1.050,1)" font-size="22.50">-1</text><text transform="translate(538.72,441.41) scale(1.050,1)" font-size="22.50">-1.5</text><text transform="translate(585.79,463.35) scale(1.050,1)" font-size="22.50">0</text><text transform="translate(629.29,463.35) scale(1.050,1)" font-size="22.50">0.5</text><text transform="translate(690.16,463.80) scale(1.050,1)" font-size="22.50">1</text><text transform="translate(733.42,463.57) scale(1.050,1)" font-size="22.50">1.5</text><text transform="translate(795.47,463.80) scale(1.050,1)" font-size="22.50">2</text><text transform="translate(838.73,463.57) scale(1.050,1)" font-size="22.50">2.5</text><text transform="translate(711.15,488.28) scale(1.148,1)" font-size="22.47" font-style="italic">ψ</text><text transform="translate(518.8,371.8) rotate(-90)" font-size="27" font-style="italic">p</text><text transform="translate(526.0,358.6) rotate(-90)" font-size="21" font-style="italic">ψ</text></g>
<g font-family="Liberation Serif, serif" fill="#858585" stroke="#858585" stroke-width="0.45"><text transform="translate(632.35,516.60) scale(0.611,1)" font-size="26.44">(</text><text stroke-width="0.7" transform="translate(640.68,515.78) scale(1.027,1)" font-size="21.64" font-style="italic">d</text><text transform="translate(654.52,516.60) scale(0.734,1)" font-size="26.44">)</text><text transform="translate(672.06,516.06) scale(1.000,1)" font-size="23.54">cos</text><text transform="translate(707.55,515.57) scale(1.032,1)" font-size="23.46" font-style="italic">ψ</text><text transform="translate(730.88,518.77) scale(1.394,1)" font-size="23.20">=</text><text transform="translate(755.42,516.72) scale(1.018,1)" font-size="24.18">0.3</text></g>
</svg>
</body></html>
